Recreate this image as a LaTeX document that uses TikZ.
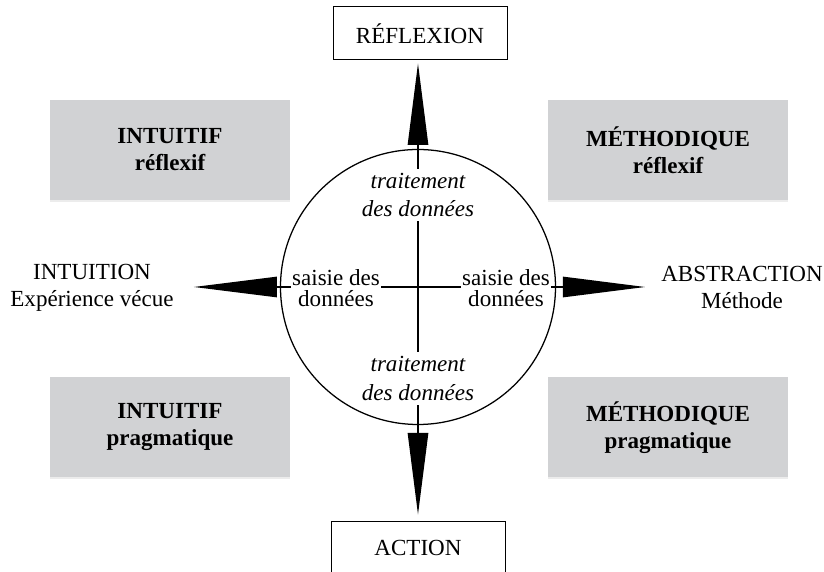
\documentclass[tikz,border=0pt]{standalone}
\usepackage{fontspec}
\setmainfont{Liberation Serif}
\usepackage{tikz}
\usetikzlibrary{positioning, calc, shadows}
\definecolor{boxgray}{RGB}{209,210,212}
\tikzset{
  etiq/.style={rectangle, draw=black, line width=0.7pt, minimum width=4.35cm, minimum height=1.325cm, text centered, font=\fontsize{16.4}{19}\selectfont},
  zone/.style={rectangle, fill=boxgray, minimum width=6cm, minimum height=2.5cm, align=center, font=\fontsize{16.4}{19.2}\selectfont\bfseries,
    drop shadow={shadow xshift=0pt, shadow yshift=-0.05cm, opacity=0.15}},
  pole/.style={align=center, font=\fontsize{16.4}{19.2}\selectfont},
  donnee/.style={fill=white, align=center, inner xsep=1pt, inner ysep=3pt, font=\fontsize{16.4}{15}\selectfont},
  traite/.style={fill=white, align=center, inner xsep=1pt, inner ysep=3pt, font=\fontsize{16.4}{20.3}\selectfont\itshape}
}
\newcommand{\pointer}[2]{
    \fill ($(#1)!0.26cm!90:(#2)$) -- (#2) -- ($(#1)!0.26cm!-90:(#2)$) -- cycle;
}

\begin{document}
\begin{tikzpicture}
    \useasboundingbox (-10.45,-7.125) rectangle (10.15,7.175);

    % Les quatre profils
    \node[zone] (intref) at (-6.2, 3.43) {INTUITIF\\réflexif};
    \node[zone] (metref) at (6.25, 3.43) {MÉTHODIQUE\\réflexif};
    \node[zone] (intpra) at (-6.2, -3.51) {INTUITIF\\pragmatique};
    \node[zone] (metpra) at (6.25, -3.51) {MÉTHODIQUE\\pragmatique};

    % Cercle central
    \node[circle, draw, line width=0.9pt, minimum size=6.875cm, inner sep=0pt] (disc) at (0,0) {};

    % Etiquettes haut et bas
    \node[etiq] (refl) at (0.05, 6.34) {RÉFLEXION};
    \node[etiq] (act) at (0, -6.53) {ACTION};

    % Poles gauche et droite
    \node[pole] (intu) at (-8.15, -0.02) {INTUITION\\Expérience vécue};
    \node[pole] (abst) at (8.1, -0.02) {ABSTRACTION\\Méthode};

    % Bases et pointes des fleches
    \coordinate (nb) at (0, 3.55);
    \coordinate (sb) at (0, -3.65);
    \coordinate (wb) at (-3.525, 0);
    \coordinate (eb) at (3.625, 0);
    \coordinate (nt) at ($(refl.south)+(-0.05,-0.08)$);
    \coordinate (st) at ($(act.north)+(0,0.17)$);
    \coordinate (wt) at (-5.6, 0);
    \coordinate (et) at (5.675, 0);

    % Axes
    \draw[line width=1pt] (nb) -- (sb);
    \draw[line width=1pt] (wb) -- (eb);

    \pointer{nb}{nt}
    \pointer{sb}{st}
    \pointer{wb}{wt}
    \pointer{eb}{et}

    % Textes dans le cercle
    \node[traite] (trh) at (0, 2.3) {traitement\\des données};
    \node[traite] (trb) at (0, -2.29) {traitement\\des données};
    \node[donnee] (sag) at (-2.05, -0.03) {saisie des\\données};
    \node[donnee] (sad) at (2.2, -0.03) {saisie des\\données};

\end{tikzpicture}
\end{document}
